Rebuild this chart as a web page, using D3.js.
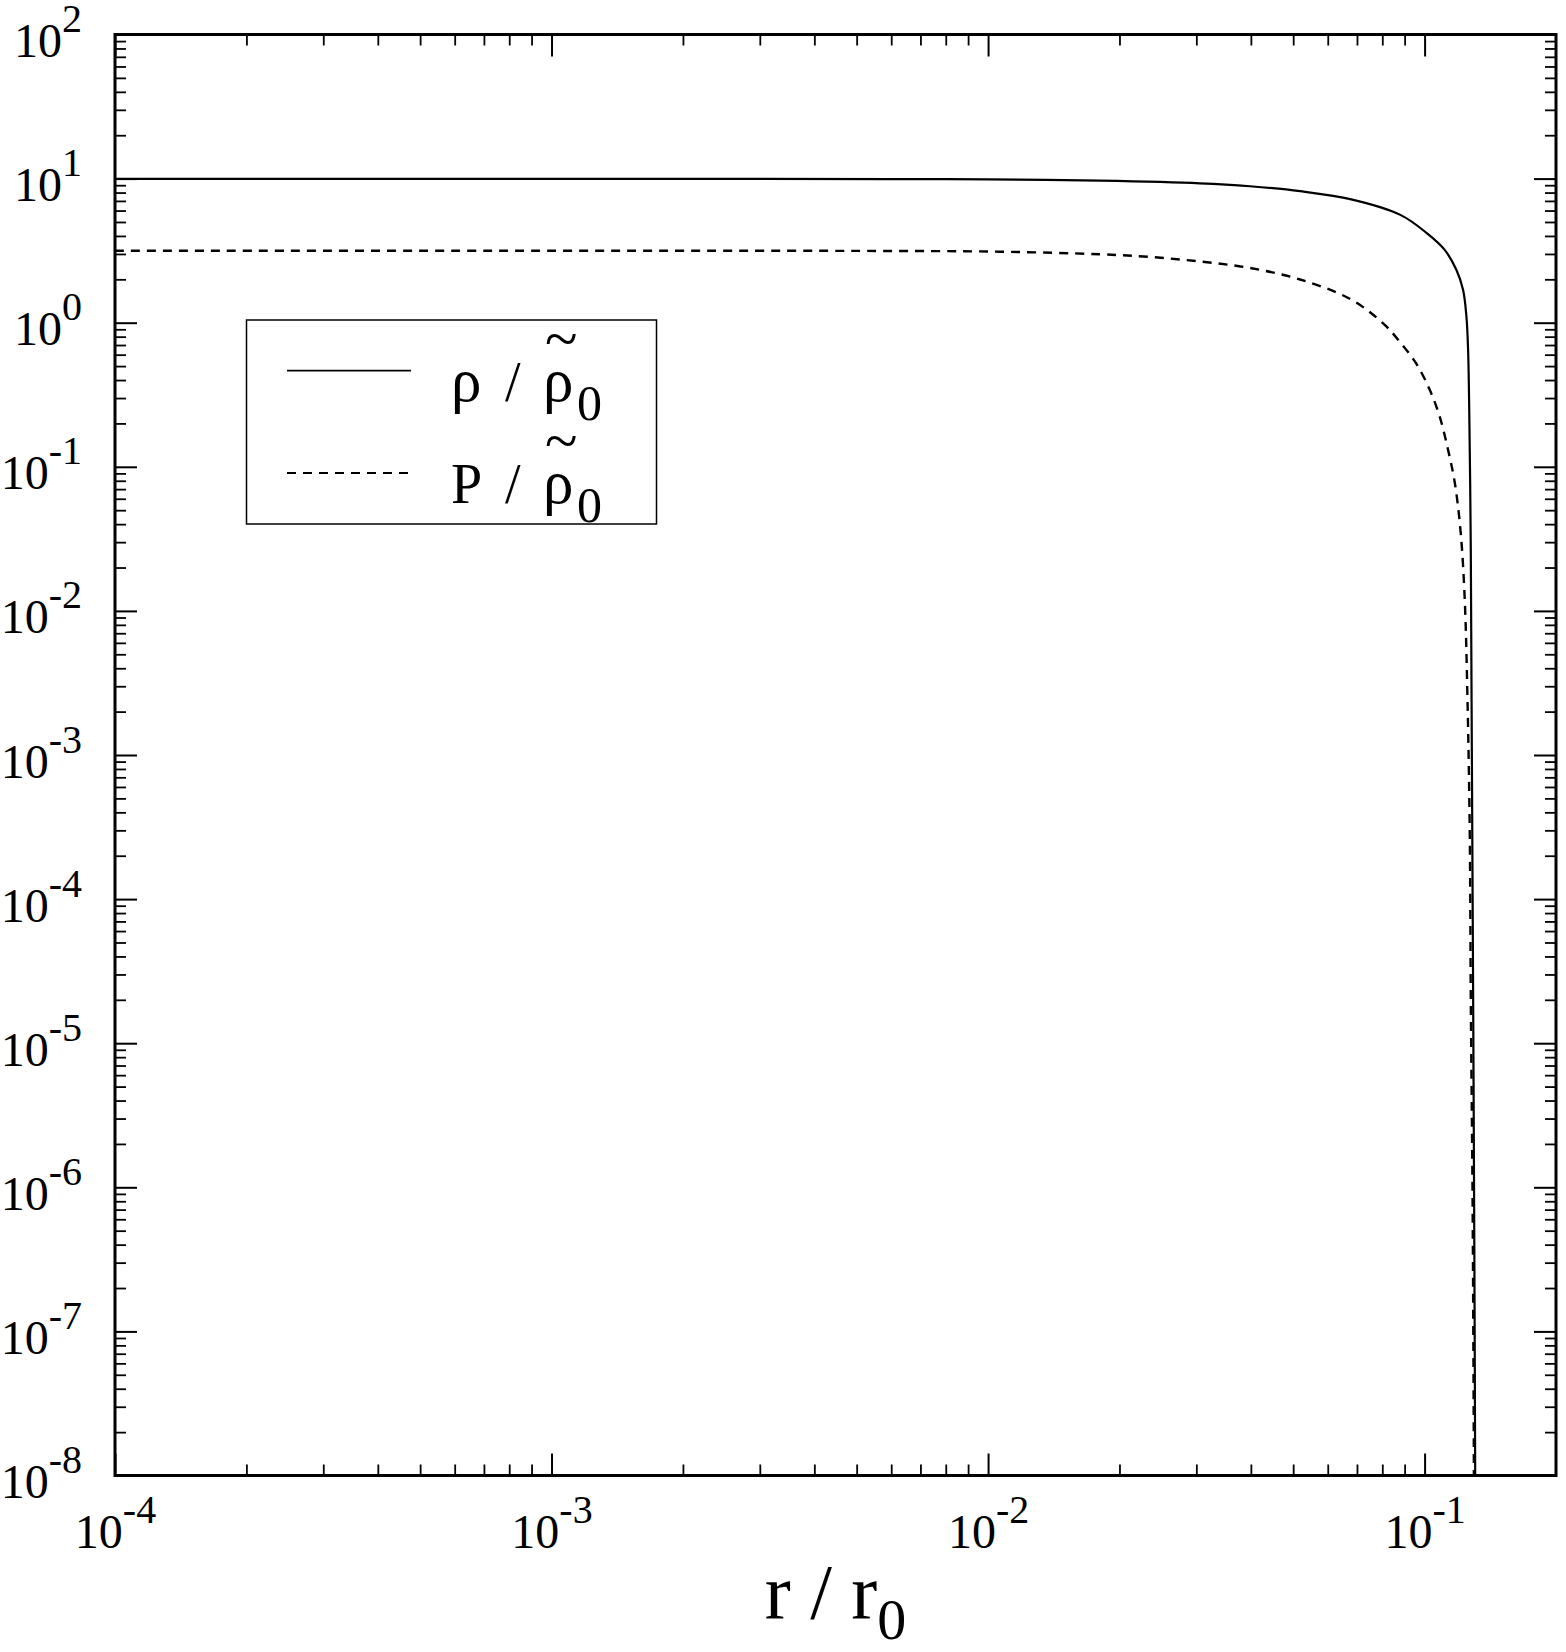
<!DOCTYPE html>
<html>
<head>
<meta charset="utf-8">
<script src="https://cdn.jsdelivr.net/npm/d3@7"></script>
<style>
  body { margin: 0; background: #fff; }
  text { font-family: "Liberation Serif", "Times New Roman", serif; fill: #000; }
</style>
</head>
<body>
<svg id="chart"></svg>
<script>
// density profile
const rhoR = [1e-4, 3e-4, 1e-3, 3e-3, 6e-3, 1e-2, 0.01804, 0.03055, 0.0398, 0.05186, 0.06754, 0.088,
  0.101, 0.1112, 0.1183, 0.1225, 0.1247, 0.1258, 0.1269, 0.1276, 0.1283, 0.1292, 0.1300, 0.1306, 0.1307];
const rhoV = [9.95, 9.95, 9.95, 9.95, 9.93, 9.88, 9.67, 9.28, 8.85, 8.18, 7.2, 5.6,
  4.20, 3.20, 2.32, 1.69, 1.10, 0.646, 0.131, 0.0265, 1.08e-3, 2.0e-5, 3.7e-7, 1e-8, 1e-9];

// pressure profile
const presR = [1e-4, 1e-3, 5e-3, 0.01064, 0.01804, 0.02346, 0.03055, 0.0398, 0.05186, 0.06754, 0.08035,
  0.088, 0.09581, 0.1028, 0.1083, 0.1132, 0.1173, 0.121, 0.1236, 0.1254, 0.1269, 0.1276, 0.1288, 0.1297, 0.1298];
const presV = [3.16, 3.16, 3.15, 3.11, 2.985, 2.86, 2.66, 2.397, 1.994, 1.46, 0.99,
  0.729, 0.517, 0.341, 0.2227, 0.1308, 0.0772, 0.0347, 0.0119, 2.41e-3, 2.88e-4, 2.0e-5, 8.2e-7, 1e-8, 1e-9];

const xMajor = [1e-4, 1e-3, 1e-2, 1e-1];
const yMajor = [1e-8, 1e-7, 1e-6, 1e-5, 1e-4, 1e-3, 1e-2, 1e-1, 1e0, 1e1, 1e2];
const legendLabels = ["ρ", "P"];

const W = 1566, H = 1652;
const plotL = 115, plotR = 1556, plotT = 34.5, plotB = 1475.5;

const svg = d3.select("#chart").attr("width", W).attr("height", H);
svg.append("rect").attr("width", W).attr("height", H).attr("fill", "#fff");

const x = d3.scaleLog().domain([1e-4, 0.2]).range([plotL, plotR]);
const y = d3.scaleLog().domain([1e-8, 1e2]).range([plotB, plotT]);

// minor tick positions 2..9 in each decade
const xMinor = [];
for (let e = -4; e <= -1; e++) for (let k = 2; k <= 9; k++) {
  const v = k * Math.pow(10, e);
  if (v < 0.2) xMinor.push(v);
}
const yMinor = [];
for (let e = -8; e <= 1; e++) for (let k = 2; k <= 9; k++) yMinor.push(k * Math.pow(10, e));

function tickStyle(g, w) {
  g.select(".domain").remove();
  g.selectAll(".tick line").attr("stroke", "#000").attr("stroke-width", w);
}

function powerLabel(t) {
  t.append("tspan").text("10");
  t.append("tspan").attr("dy", -25).attr("font-size", 40).text(d => Math.round(Math.log10(d)));
}

// bottom
svg.append("g").attr("transform", `translate(0,${plotB})`)
  .call(d3.axisBottom(x).tickValues(xMinor).tickSize(-11).tickFormat(""))
  .call(g => tickStyle(g, 1.8));
svg.append("g").attr("transform", `translate(0,${plotB})`)
  .call(d3.axisBottom(x).tickValues(xMajor).tickSize(-22))
  .attr("font-size", null).attr("font-family", null)
  .call(g => tickStyle(g, 2))
  .call(g => g.selectAll(".tick text").text(null)
    .attr("y", 72.5).attr("dy", null).attr("font-size", 48)
    .call(powerLabel));

// top
svg.append("g").attr("transform", `translate(0,${plotT})`)
  .call(d3.axisTop(x).tickValues(xMinor).tickSize(-11).tickFormat(""))
  .call(g => tickStyle(g, 1.8));
svg.append("g").attr("transform", `translate(0,${plotT})`)
  .call(d3.axisTop(x).tickValues(xMajor).tickSize(-22).tickFormat(""))
  .call(g => tickStyle(g, 2));

// left
svg.append("g").attr("transform", `translate(${plotL},0)`)
  .call(d3.axisLeft(y).tickValues(yMinor).tickSize(-11).tickFormat(""))
  .call(g => tickStyle(g, 1.8));
svg.append("g").attr("transform", `translate(${plotL},0)`)
  .call(d3.axisLeft(y).tickValues(yMajor).tickSize(-22))
  .attr("font-size", null).attr("font-family", null)
  .call(g => tickStyle(g, 2))
  .call(g => g.selectAll(".tick text").text(null)
    .attr("x", -33).attr("y", 22).attr("dy", null).attr("font-size", 48)
    .attr("text-anchor", "end")
    .call(powerLabel));

// right
svg.append("g").attr("transform", `translate(${plotR},0)`)
  .call(d3.axisRight(y).tickValues(yMinor).tickSize(-11).tickFormat(""))
  .call(g => tickStyle(g, 1.8));
svg.append("g").attr("transform", `translate(${plotR},0)`)
  .call(d3.axisRight(y).tickValues(yMajor).tickSize(-22).tickFormat(""))
  .call(g => tickStyle(g, 2));

// frame
svg.append("rect")
  .attr("x", plotL).attr("y", plotT)
  .attr("width", plotR - plotL).attr("height", plotB - plotT)
  .attr("fill", "none").attr("stroke", "#000").attr("stroke-width", 3);

// curves
svg.append("clipPath").attr("id", "plot-clip")
  .append("rect").attr("x", plotL).attr("y", plotT)
  .attr("width", plotR - plotL).attr("height", plotB - plotT);

const line = d3.line()
  .x(d => x(d[0]))
  .y(d => y(d[1]))
  .curve(d3.curveCatmullRom.alpha(0.5));

const plot = svg.append("g").attr("clip-path", "url(#plot-clip)");
plot.append("path")
  .datum(rhoR.map((r, i) => [r, rhoV[i]]))
  .attr("d", line)
  .attr("fill", "none").attr("stroke", "#000").attr("stroke-width", 2.2);
plot.append("path")
  .datum(presR.map((r, i) => [r, presV[i]]))
  .attr("d", line)
  .attr("fill", "none").attr("stroke", "#000").attr("stroke-width", 2.4)
  .attr("stroke-dasharray", "9,7");

// legend
const legend = svg.append("g");
legend.append("rect")
  .attr("x", 246.5).attr("y", 320).attr("width", 410).attr("height", 204)
  .attr("fill", "#fff").attr("stroke", "#000").attr("stroke-width", 1.5);

legendLabels.forEach((lab, i) => {
  const yl = 370.7 + i * 102.3;
  const yb = 401 + i * 102.3;
  legend.append("line")
    .attr("x1", 287).attr("x2", 411).attr("y1", yl).attr("y2", yl)
    .attr("stroke", "#000").attr("stroke-width", i ? 2 : 1.8)
    .attr("stroke-dasharray", i ? "9,7" : null);
  const t = legend.append("text").attr("y", yb).attr("font-size", 56);
  t.append("tspan").attr("x", 451).attr("font-size", lab === "ρ" ? 61 : 56).text(lab);
  t.append("tspan").attr("x", 505).text("/");
  t.append("tspan").attr("x", 543).attr("font-size", 61).text("ρ");
  t.append("tspan").attr("x", 545).attr("dy", -42).attr("font-size", 60).text("~");
  t.append("tspan").attr("x", 577).attr("dy", 61).attr("font-size", 50).text("0");
});

// axis title
svg.append("text")
  .attr("x", (plotL + plotR) / 2).attr("y", 1618)
  .attr("text-anchor", "middle").attr("font-size", 78)
  .call(t => {
    t.append("tspan").text("r / r");
    t.append("tspan").attr("dy", 21).attr("font-size", 58).text("0");
  });
</script>
</body>
</html>
